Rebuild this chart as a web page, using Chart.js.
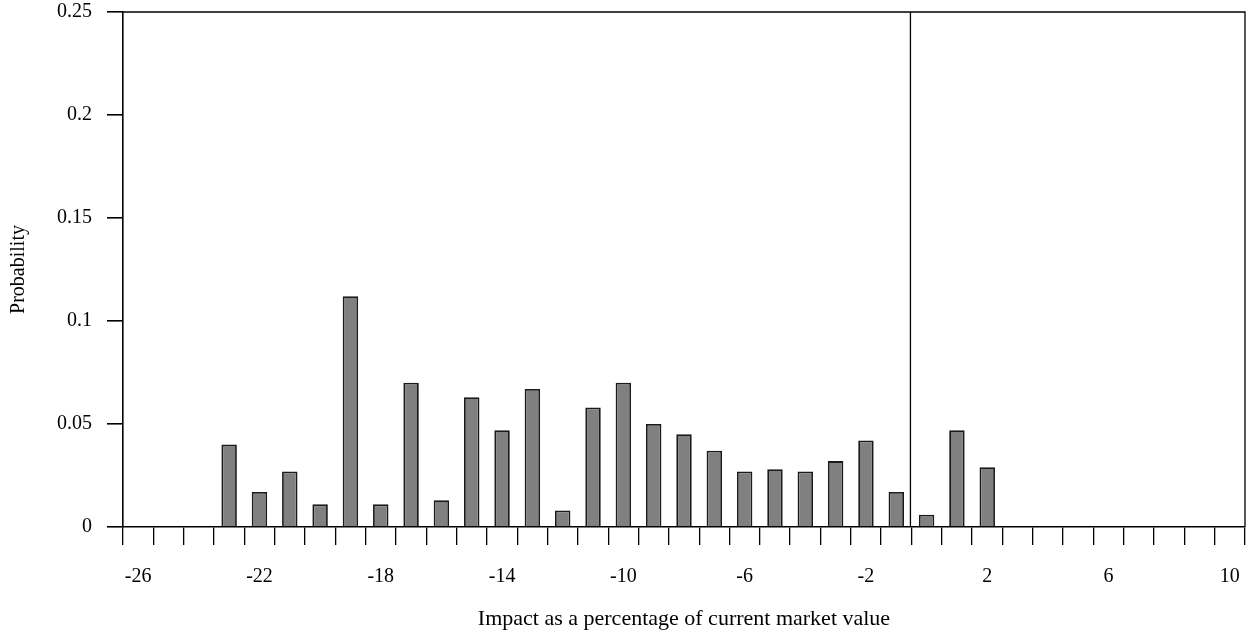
<!DOCTYPE html>
<html>
<head>
<meta charset="utf-8">
<script src="https://cdn.jsdelivr.net/npm/chart.js@4/dist/chart.umd.min.js"></script>
<style>
  html, body { margin: 0; padding: 0; background: #fff; }
  #wrap { width: 1249px; height: 635px; position: relative; }
</style>
</head>
<body>
<div id="wrap"><canvas id="c" width="1249" height="635"></canvas></div>
<script>
// Impact buckets (percentage points of current market value)
const impacts = [-26, -25, -24, -23, -22, -21, -20, -19, -18, -17, -16, -15, -14, -13, -12, -11, -10, -9, -8, -7, -6, -5, -4, -3, -2, -1, 0, 1, 2, 3, 4, 5, 6, 7, 8, 9, 10];
// Probability of each impact bucket
const probabilities = [0, 0, 0, 0.040, 0.017, 0.027, 0.011, 0.112, 0.011, 0.070, 0.013, 0.063, 0.047, 0.067, 0.008, 0.058, 0.070, 0.050, 0.045, 0.037, 0.027, 0.028, 0.027, 0.032, 0.042, 0.017, 0.006, 0.047, 0.029, 0, 0, 0, 0, 0, 0, 0, 0];
// Labelled impacts on the horizontal axis
const xTickLabels = [-26, -22, -18, -14, -10, -6, -2, 2, 6, 10];
// Probability ticks
const yTicks = [0, 0.05, 0.1, 0.15, 0.2, 0.25];

const FONT = "'Liberation Serif', 'DejaVu Serif', serif";

// Frame (top and right edges) plus the vertical marker at the start of the zero bucket
const framePlugin = {
  id: 'frame',
  afterDatasetsDraw(chart) {
    const { ctx, chartArea: a, scales: { x } } = chart;
    const i0 = impacts.indexOf(0);
    const xm = (x.getPixelForValue(i0) + x.getPixelForValue(i0 - 1)) / 2;
    ctx.save();
    ctx.strokeStyle = '#000';
    ctx.lineWidth = 1.3;
    ctx.beginPath();
    ctx.moveTo(a.left, a.top);
    ctx.lineTo(a.right, a.top);
    ctx.lineTo(a.right, a.bottom);
    ctx.moveTo(xm - 1, a.top);
    ctx.lineTo(xm - 1, a.bottom);
    ctx.stroke();
    ctx.restore();
  }
};

new Chart(document.getElementById('c'), {
  type: 'bar',
  data: {
    labels: impacts,
    datasets: [{
      data: probabilities,
      backgroundColor: '#808080',
      borderColor: '#1a1a1a',
      borderWidth: 1.8,
      categoryPercentage: 1,
      barPercentage: 0.51
    }]
  },
  options: {
    responsive: false,
    animation: false,
    devicePixelRatio: 1,
    layout: { padding: { top: 12, right: 4, left: 0, bottom: 0 } },
    plugins: { legend: { display: false }, tooltip: { enabled: false } },
    scales: {
      x: {
        type: 'category',
        offset: true,
        grid: { display: true, drawOnChartArea: false, drawTicks: true, tickLength: 18, color: '#000', lineWidth: 1.3, offset: true },
        border: { display: true, color: '#000', width: 1.6 },
        ticks: {
          autoSkip: false,
          maxRotation: 0,
          padding: 20,
          color: '#000',
          font: { family: FONT, size: 20 },
          callback(v) {
            const lab = impacts[v];
            return xTickLabels.includes(lab) ? String(lab) : '';
          }
        },
        title: {
          display: true,
          text: 'Impact as a percentage of current market value',
          color: '#000',
          font: { family: FONT, size: 22 },
          padding: { top: 0, bottom: 3 }
        },
        afterFit(s) { s.height = 108; s.paddingLeft = 0; s.paddingRight = 0; }
      },
      y: {
        min: 0,
        max: 0.25,
        afterBuildTicks(s) { s.ticks = yTicks.map(v => ({ value: v })); },
        grid: { display: true, drawOnChartArea: false, drawTicks: true, tickLength: 16, color: '#000', lineWidth: 1.6 },
        border: { display: true, color: '#000', width: 1.6 },
        ticks: {
          padding: 15,
          color: '#000',
          font: { family: FONT, size: 20 },
          callback(v) { return String(+v.toFixed(2)); }
        },
        title: {
          display: true,
          text: 'Probability',
          color: '#000',
          font: { family: FONT, size: 20 },
          padding: { top: 7, bottom: 0 }
        },
        afterFit(s) { s.width = 123; s.paddingTop = 0; s.paddingBottom = 0; }
      }
    }
  },
  plugins: [framePlugin]
});
</script>
</body>
</html>
